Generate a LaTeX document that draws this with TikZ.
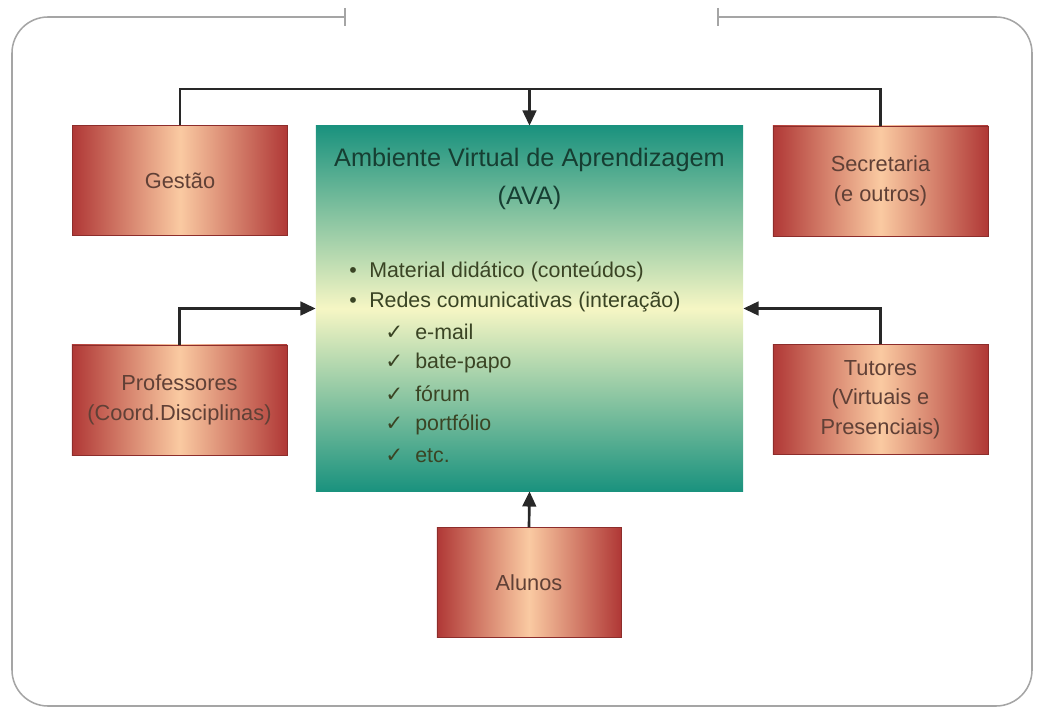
\documentclass[tikz,border=0pt]{standalone}
\usepackage{fontspec}
\setmainfont{Liberation Sans}
\newfontfamily\symfont{DejaVu Sans}
\usetikzlibrary{arrows.meta}

\definecolor{boxred}{RGB}{176,56,54}
\definecolor{boxpeach}{RGB}{250,202,162}
\definecolor{avateal}{RGB}{26,146,126}
\definecolor{avacream}{RGB}{246,246,196}
\definecolor{labelbrown}{RGB}{96,64,54}
\definecolor{titlegreen}{RGB}{22,62,50}
\definecolor{listolive}{RGB}{58,68,36}
\definecolor{linegray}{RGB}{40,40,40}
\definecolor{framegray}{RGB}{165,165,165}

\begin{document}
\begin{tikzpicture}[x=0.025cm, y=-0.025cm,
  actor/.style={rectangle, minimum width=5.375cm, minimum height=2.75cm,
    left color=boxred, right color=boxred, middle color=boxpeach,
    draw=boxred!80!black, line width=0.3pt, text=labelbrown, align=center,
    font=\fontsize{15.5}{21}\selectfont},
  ava/.style={rectangle, minimum width=10.675cm, minimum height=9.125cm,
    top color=avateal, bottom color=avateal, middle color=avacream},
  title/.style={text=titlegreen, align=center, font=\fontsize{18}{27}\selectfont},
  listtext/.style={text=listolive, anchor=west, inner sep=0pt,
    font=\fontsize{15.2}{21}\selectfont},
  link/.style={draw=linegray, line width=1.9pt},
  tip/.style={link, -{Triangle[length=0.38cm, width=0.34cm]}},
  frame/.style={draw=framegray, line width=1.1pt}]

\useasboundingbox (0,0) rectangle (1038,709);

% outer frame, open at the top
\draw[frame, rounded corners=0.9cm] (345,17) -| (12,706) -| (1032,17) -- (718,17);
\draw[frame] (345,8) -- (345,26);
\draw[frame] (718,8) -- (718,26);

\node[ava]   (ava)        at (529.5,308.5) {};
\node[actor] (gestao)     at (180,180.5) {Gestão};
\node[actor] (secretaria) at (880.5,181) {Secretaria\\(e outros)};
\node[actor] (prof)       at (179.5,400) {Professores\\(Coord.Disciplinas)};
\node[actor] (tutores)    at (880.5,399.5) {Tutores\\(Virtuais e\\Presenciais)};
\node[actor, minimum width=4.6cm] (alunos) at (529,582.5) {Alunos};

\node[title] (avatitle) at (529.5,179) {Ambiente Virtual de Aprendizagem\\(AVA)};

\node[listtext] (mat)   at (349,272) {\makebox[0.5cm][l]{•}Material didático (conteúdos)};
\node[listtext] (redes) at (349,302) {\makebox[0.5cm][l]{•}Redes comunicativas (interação)};
\foreach \entry [count=\i] in {e-mail, bate-papo, fórum, portfólio, etc.}
  \node[listtext] (chk\i) at (385,{332+31*(\i-1)}) {\makebox[0.75cm][l]{\symfont ✓}\entry};

% -------- connectors -----------
\coordinate (bus) at (0,89);
\draw[link] (gestao.north) |- (bus -| secretaria.north) -- (secretaria.north);
\draw[tip]  (bus -| ava.north) -- (ava.north);
\draw[tip]  (prof.north) |- (ava.west);
\draw[tip]  (tutores.north) |- (ava.east);
\draw[tip]  (alunos.north) -- (ava.south);
\end{tikzpicture}
\end{document}
